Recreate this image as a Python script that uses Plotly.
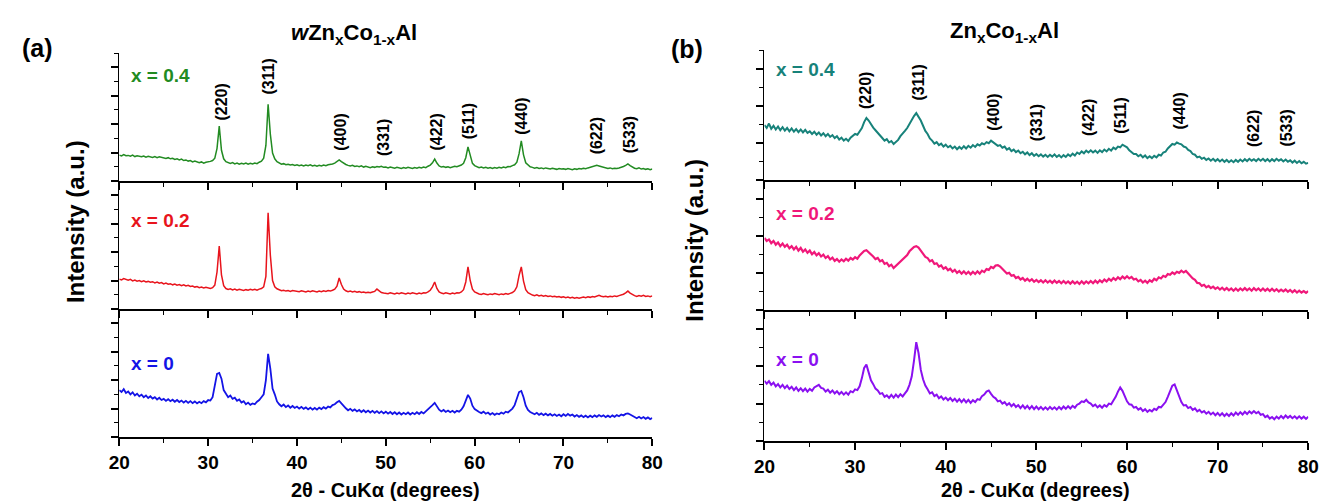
import plotly.graph_objects as go

# 2-theta grid, 0.25 degree steps from 20 to 80
two_theta = [20 + 0.25 * i for i in range(241)]

# panel (a): wZnxCo1-xAl
w_x04 = [
    91, 88, 93, 89, 90, 87, 91, 86, 89, 88, 85, 88, 84, 87, 85, 83, 86, 82, 85, 83,
    81, 79, 82, 78, 80, 76, 78, 74, 77, 72, 74, 70, 72, 67, 70, 66, 64, 67, 63, 66,
    67, 69, 72, 80, 115, 193, 108, 78, 68, 64, 62, 65, 60, 63, 59, 62, 60, 63, 59, 62,
    60, 63, 61, 66, 70, 80, 125, 270, 165, 98, 78, 68, 62, 59, 61, 57, 59, 56, 58, 55,
    57, 54, 56, 53, 56, 54, 57, 53, 55, 52, 55, 53, 56, 54, 57, 58, 60, 63, 68, 74,
    68, 62, 58, 55, 53, 55, 51, 53, 50, 53, 49, 52, 50, 47, 50, 48, 51, 49, 52, 48,
    49, 46, 49, 47, 45, 48, 46, 44, 47, 45, 48, 46, 44, 47, 45, 48, 46, 49, 47, 52,
    56, 64, 77, 63, 53, 49, 51, 48, 50, 47, 50, 52, 50, 53, 56, 62, 82, 120, 86, 62,
    54, 50, 47, 49, 46, 48, 45, 47, 44, 47, 45, 48, 46, 49, 47, 51, 50, 54, 57, 66,
    96, 141, 92, 64, 55, 50, 48, 45, 47, 44, 46, 43, 46, 44, 42, 45, 43, 41, 44, 42,
    43, 41, 44, 42, 40, 43, 41, 44, 42, 45, 43, 46, 48, 50, 53, 55, 53, 51, 48, 46,
    44, 46, 43, 45, 44, 46, 48, 51, 55, 60, 54, 48, 45, 43, 46, 42, 44, 41, 43, 40,
    42,
]
w_x02 = [
    105, 102, 107, 103, 101, 104, 99, 102, 98, 100, 96, 99, 95, 97, 94, 96, 92, 95, 91, 93,
    88, 91, 87, 89, 85, 88, 84, 86, 82, 85, 81, 83, 79, 81, 77, 79, 75, 77, 74, 76,
    74, 72, 75, 84, 130, 221, 120, 82, 72, 69, 71, 67, 70, 66, 69, 67, 65, 68, 66, 69,
    67, 69, 66, 70, 72, 78, 115, 338, 190, 100, 78, 71, 67, 64, 66, 63, 65, 62, 65, 63,
    63, 61, 64, 62, 60, 63, 61, 64, 62, 60, 63, 61, 64, 62, 65, 63, 66, 70, 80, 109,
    86, 70, 64, 61, 63, 60, 62, 59, 61, 58, 60, 57, 59, 57, 60, 62, 70, 64, 58, 56,
    56, 54, 57, 55, 53, 56, 54, 57, 55, 53, 56, 54, 57, 55, 53, 56, 54, 57, 56, 60,
    66, 78, 95, 72, 60, 56, 54, 57, 55, 53, 56, 54, 57, 56, 60, 68, 95, 148, 100, 70,
    60, 55, 53, 51, 54, 52, 50, 53, 51, 54, 52, 50, 53, 51, 54, 52, 55, 58, 64, 78,
    118, 148, 98, 68, 57, 52, 49, 47, 50, 46, 48, 45, 47, 44, 46, 43, 45, 42, 44, 41,
    43, 40, 42, 39, 41, 38, 40, 38, 39, 42, 40, 43, 41, 44, 42, 46, 48, 45, 43, 45,
    42, 45, 43, 46, 44, 47, 49, 52, 57, 63, 56, 50, 47, 44, 47, 45, 48, 44, 46, 43,
    46,
]
w_x00 = [
    165, 158, 168, 155, 160, 150, 157, 146, 152, 143, 149, 140, 146, 137, 143, 135, 140, 132, 138, 130,
    134, 127, 133, 126, 131, 124, 130, 123, 128, 121, 127, 120, 126, 119, 125, 118, 124, 119, 126, 122,
    130, 128, 140, 175, 222, 225, 205, 165, 150, 140, 146, 134, 138, 127, 132, 121, 126, 115, 121, 113,
    118, 115, 124, 130, 140, 150, 200, 292, 240, 170, 150, 125, 115, 108, 114, 105, 111, 103, 109, 102,
    107, 100, 106, 99, 104, 97, 103, 96, 102, 96, 103, 98, 105, 100, 107, 104, 112, 115, 122, 127,
    118, 108, 101, 94, 99, 92, 97, 90, 95, 88, 94, 87, 93, 86, 92, 85, 91, 84, 90, 83,
    89, 82, 88, 81, 87, 80, 86, 79, 85, 80, 86, 79, 85, 80, 87, 81, 88, 83, 90, 95,
    102, 112, 120, 108, 96, 90, 95, 88, 93, 87, 92, 86, 92, 89, 96, 108, 130, 148, 135, 110,
    98, 92, 88, 84, 89, 82, 86, 79, 84, 78, 83, 80, 86, 82, 89, 86, 93, 100, 112, 135,
    158, 162, 140, 110, 95, 88, 84, 80, 85, 78, 83, 77, 82, 76, 81, 75, 80, 74, 79, 73,
    80, 74, 81, 75, 79, 72, 77, 71, 76, 70, 75, 69, 75, 70, 76, 71, 77, 72, 76, 70,
    75, 70, 76, 71, 77, 73, 79, 76, 81, 83, 79, 74, 72, 66, 71, 65, 70, 64, 69, 63,
    67,
]

# panel (b): ZnxCo1-xAl
z_x04 = [
    148, 140, 152, 138, 146, 136, 144, 134, 142, 133, 140, 131, 139, 130, 137, 129, 136, 128, 135, 127,
    131, 124, 130, 122, 128, 120, 126, 118, 124, 116, 121, 113, 118, 109, 114, 106, 111, 105, 114, 118,
    124, 122, 133, 140, 156, 167, 160, 150, 141, 134, 126, 119, 113, 106, 110, 101, 105, 97, 103, 108,
    118, 124, 132, 140, 152, 163, 172, 180, 170, 160, 146, 132, 124, 112, 106, 98, 102, 94, 98, 90,
    95, 88, 92, 85, 90, 83, 89, 84, 91, 85, 92, 87, 94, 89, 96, 93, 99, 96, 102, 99,
    106, 101, 97, 92, 94, 87, 90, 82, 86, 78, 82, 75, 79, 72, 76, 69, 74, 67, 72, 65,
    70, 64, 69, 63, 68, 62, 68, 63, 69, 62, 67, 61, 67, 62, 69, 64, 71, 66, 74, 70,
    77, 72, 79, 74, 80, 74, 79, 73, 80, 75, 82, 77, 84, 79, 87, 83, 90, 88, 95, 91,
    88, 80, 76, 70, 70, 64, 68, 61, 66, 59, 64, 59, 65, 61, 68, 66, 74, 76, 85, 90,
    97, 95, 101, 98, 96, 90, 88, 81, 78, 70, 68, 61, 63, 57, 60, 54, 58, 52, 57, 51,
    56, 50, 55, 49, 54, 48, 53, 48, 54, 49, 55, 50, 56, 51, 57, 52, 56, 51, 57, 52,
    57, 51, 56, 50, 56, 51, 57, 52, 56, 50, 55, 49, 53, 47, 52, 46, 51, 45, 49, 44,
    46,
]
z_x02 = [
    194, 186, 190, 180, 186, 176, 182, 172, 179, 170, 176, 166, 172, 163, 170, 160, 167, 157, 163, 154,
    160, 150, 156, 147, 153, 144, 149, 140, 145, 136, 141, 132, 137, 130, 136, 131, 138, 133, 140, 136,
    142, 138, 147, 152, 159, 161, 156, 150, 144, 137, 140, 131, 134, 124, 127, 118, 122, 113, 119, 126,
    132, 136, 142, 148, 158, 164, 170, 172, 168, 160, 152, 143, 140, 131, 134, 124, 126, 117, 120, 111,
    115, 107, 111, 103, 108, 100, 105, 98, 104, 97, 103, 96, 103, 97, 104, 98, 106, 102, 110, 108,
    116, 113, 120, 121, 117, 110, 106, 98, 100, 92, 94, 86, 89, 82, 86, 79, 84, 78, 83, 76,
    81, 75, 80, 74, 80, 74, 79, 73, 79, 73, 78, 72, 78, 72, 77, 71, 77, 71, 76, 70,
    77, 71, 77, 72, 78, 72, 79, 73, 80, 75, 82, 77, 84, 79, 86, 81, 88, 83, 90, 85,
    91, 85, 89, 82, 84, 77, 81, 74, 79, 73, 80, 76, 84, 80, 88, 85, 92, 89, 97, 95,
    101, 97, 103, 100, 106, 101, 105, 98, 94, 85, 81, 73, 72, 65, 68, 61, 65, 59, 63, 57,
    61, 55, 60, 54, 59, 53, 58, 52, 58, 52, 58, 53, 59, 53, 58, 52, 59, 53, 58, 52,
    58, 52, 57, 51, 57, 51, 56, 50, 55, 50, 55, 49, 54, 48, 53, 47, 52, 47, 51, 46,
    51,
]
z_x00 = [
    161, 153, 160, 150, 156, 146, 152, 143, 150, 141, 148, 139, 145, 136, 143, 134, 141, 133, 140, 132,
    139, 134, 143, 146, 150, 142, 140, 132, 137, 129, 135, 127, 133, 125, 131, 124, 130, 124, 133, 130,
    138, 136, 146, 168, 195, 204, 185, 162, 152, 140, 135, 126, 128, 118, 122, 115, 123, 116, 124, 117,
    125, 119, 127, 135, 150, 172, 215, 264, 235, 190, 165, 148, 138, 127, 130, 120, 124, 114, 119, 111,
    116, 109, 115, 107, 113, 105, 112, 104, 111, 103, 110, 102, 109, 104, 112, 110, 120, 124, 132, 135,
    126, 118, 114, 106, 108, 100, 104, 96, 101, 93, 99, 91, 96, 88, 95, 87, 94, 86, 93, 85,
    92, 85, 91, 84, 90, 84, 91, 85, 90, 84, 91, 85, 92, 86, 93, 87, 94, 89, 97, 100,
    106, 104, 110, 103, 100, 93, 97, 90, 95, 89, 96, 92, 100, 98, 108, 118, 132, 143, 134, 118,
    106, 98, 97, 89, 91, 84, 88, 80, 85, 78, 83, 79, 86, 83, 91, 90, 97, 104, 118, 135,
    148, 151, 135, 115, 104, 95, 96, 88, 91, 83, 87, 79, 83, 76, 80, 73, 78, 71, 76, 69,
    75, 68, 74, 67, 73, 67, 74, 68, 76, 70, 77, 71, 78, 72, 79, 74, 80, 74, 78, 70,
    72, 64, 68, 60, 64, 58, 65, 60, 67, 61, 68, 62, 67, 61, 66, 60, 66, 60, 65, 59,
    65,
]

hkl = ['(220)', '(311)', '(400)', '(331)', '(422)', '(511)', '(440)', '(622)', '(533)']
hkl_pos_a = [31.4, 36.8, 44.8, 49.8, 55.6, 59.4, 65.3, 73.7, 77.4]
hkl_pos_b = [31.2, 36.9, 45.3, 50.0, 55.7, 59.3, 65.8, 73.9, 77.5]
hkl_y_a = [94, 69, 124, 130, 124, 113, 108, 128, 127]   # label centre, pixels from top
hkl_y_b = [82, 75, 104, 115, 110, 108, 103, 120, 120]

W, H = 1328, 503
FONT = 'Liberation Sans, Arial, sans-serif'

def py(pix):
    return (H - pix) / H

def px(pix):
    return pix / W

# (trace data, colour, label, x-axis id, y-axis id, y domain in pixels, y max, line width)
panels = [
    (w_x00, '#1414e6', 'x = 0', 'x', 'y', (429, 301), 450, 1.8),
    (w_x02, '#e8141c', 'x = 0.2', 'x2', 'y2', (301, 173), 450, 1.5),
    (w_x04, '#228b22', 'x = 0.4', 'x3', 'y3', (173, 45), 450, 1.5),
    (z_x00, '#8a10f0', 'x = 0', 'x4', 'y4', (433, 302), 350, 2.0),
    (z_x02, '#f0187a', 'x = 0.2', 'x5', 'y5', (302, 172), 350, 2.2),
    (z_x04, '#17827a', 'x = 0.4', 'x6', 'y6', (172, 42), 350, 2.0),
]
label_y = [356, 213, 68, 351, 205, 61]

fig = go.Figure()
layout = dict(
    width=W, height=H, margin=dict(l=0, r=0, t=0, b=0),
    paper_bgcolor='white', plot_bgcolor='white', showlegend=False,
    font=dict(family=FONT, color='black'),
)
annotations = []

for i, (vals, color, lab, xa, ya, (ybot, ytop), ymax, lw) in enumerate(panels):
    fig.add_trace(go.Scatter(x=two_theta, y=vals, mode='lines', xaxis=xa, yaxis=ya,
                             line=dict(color=color, width=lw), hoverinfo='skip'))
    xdom = [px(102), px(644)] if i < 3 else [px(758), px(1311)]
    bottom = i in (0, 3)
    xkey = 'xaxis' if xa == 'x' else 'xaxis' + xa[1:]
    ykey = 'yaxis' if ya == 'y' else 'yaxis' + ya[1:]
    layout[xkey] = dict(
        domain=xdom, anchor=ya, range=[20, 80], dtick=10, tick0=20,
        showline=True, linecolor='black', linewidth=1.6, mirror=False,
        ticks='outside', ticklen=7, tickwidth=1.6, tickcolor='black',
        minor=dict(dtick=5, ticks='outside', ticklen=4, tickwidth=1.4, tickcolor='black'),
        showgrid=False, zeroline=False, showticklabels=bottom,
        tickfont=dict(family=FONT, size=19, weight='bold'),
    )
    layout[ykey] = dict(
        domain=[py(ybot), py(ytop)], anchor=xa, range=[0, ymax], dtick=100,
        showline=True, linecolor='black', linewidth=1.4,
        ticks='outside', ticklen=7, tickwidth=1.5, tickcolor='black',
        minor=dict(dtick=50, ticks='outside', ticklen=4, tickwidth=1.3, tickcolor='black'),
        showgrid=False, zeroline=False, showticklabels=False,
    )
    annotations.append(dict(
        text='<b>' + lab + '</b>', xref=xa, yref='paper', x=21.1, y=py(label_y[i]),
        xanchor='left', yanchor='middle', showarrow=False,
        font=dict(family=FONT, size=19, color=color),
    ))

# hkl labels on the top panels
for name, xa_, ya_ in zip(hkl, hkl_pos_a, hkl_y_a):
    annotations.append(dict(text=name, xref='x3', yref='paper', x=xa_, y=py(ya_),
                            textangle=-90, showarrow=False, xanchor='center', yanchor='middle',
                            font=dict(family=FONT, size=16, weight='bold')))
for name, xb_, yb_ in zip(hkl, hkl_pos_b, hkl_y_b):
    annotations.append(dict(text=name, xref='x6', yref='paper', x=xb_, y=py(yb_),
                            textangle=-90, showarrow=False, xanchor='center', yanchor='middle',
                            font=dict(family=FONT, size=16, weight='bold')))

# titles, panel letters, axis titles
texts = [
    ('<b>(a)</b>', 19, 40, 25, 0),
    ('<b>(b)</b>', 679, 41, 25, 0),
    ('<b><i>w</i>Zn<sub>x</sub>Co<sub>1-x</sub>Al</b>', 341, 26, 22, 0),
    ('<b>Zn<sub>x</sub>Co<sub>1-x</sub>Al</b>', 1002, 24, 22, 0),
    ('<b>Intensity (a.u.)</b>', 57, 214, 24, -90),
    ('<b>Intensity (a.u.)</b>', 686, 232, 24, -90),
    ('<b>2\u03b8 - CuK\u03b1 (degrees)</b>', 373, 482, 20, 0),
    ('<b>2\u03b8 - CuK\u03b1 (degrees)</b>', 1034, 482, 20, 0),
]
for t, tx, ty, size, ang in texts:
    annotations.append(dict(text=t, xref='paper', yref='paper', x=px(tx), y=py(ty),
                            xanchor='center', yanchor='middle', showarrow=False, textangle=ang,
                            font=dict(family=FONT, size=size, color='black')))

layout['annotations'] = annotations
fig.update_layout(**layout)

fig.write_html('out.html')
